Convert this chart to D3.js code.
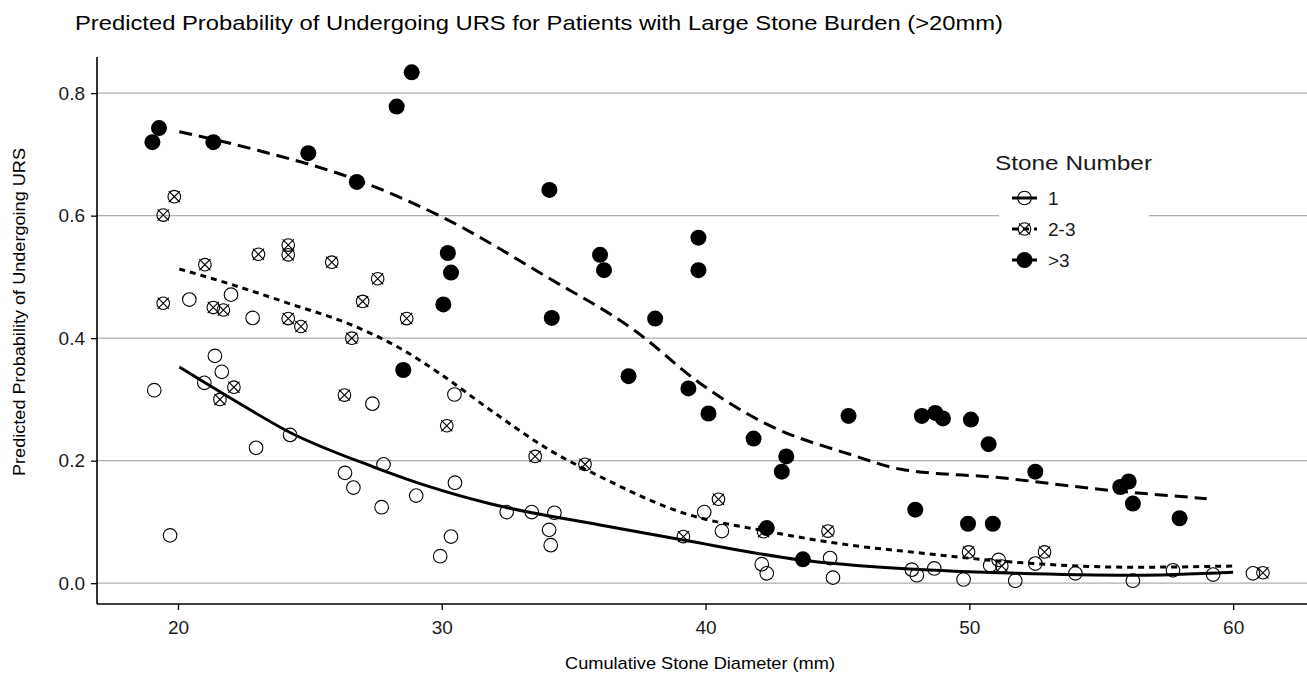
<!DOCTYPE html>
<html>
<head>
<meta charset="utf-8">
<script src="https://cdn.jsdelivr.net/npm/d3@7"></script>
<style>
  body { margin: 0; background: #fff; }
  svg { display: block; font-family: "Liberation Sans", Arial, sans-serif; }
</style>
</head>
<body>
<svg id="chart" width="1307" height="677"></svg>
<script>
// points: [diameter mm, probability]
const ptsOne = [
  [19.10,0.315],[19.70,0.078],[20.43,0.463],[21.00,0.327],[21.40,0.371],[21.66,0.345],
  [22.01,0.471],[22.83,0.433],[22.96,0.221],[24.25,0.242],[26.33,0.180],[26.65,0.156],
  [27.37,0.293],[27.72,0.124],[27.79,0.194],[29.03,0.143],[29.94,0.044],[30.35,0.076],
  [30.48,0.308],[30.50,0.164],[32.46,0.116],[33.41,0.116],[34.07,0.087],[34.13,0.062],
  [34.27,0.115],[39.95,0.116],[40.62,0.085],[42.13,0.031],[42.32,0.016],[44.72,0.041],
  [44.83,0.009],[47.82,0.022],[48.01,0.013],[48.67,0.024],[49.78,0.006],[50.79,0.029],
  [51.11,0.038],[51.74,0.004],[52.50,0.032],[54.02,0.016],[56.20,0.004],[57.72,0.021],
  [59.24,0.014],[60.75,0.016]
];
const ptsTwoThree = [
  [19.44,0.601],[19.86,0.631],[19.44,0.457],[21.02,0.520],[21.34,0.450],[21.72,0.446],
  [21.59,0.300],[22.12,0.320],[23.05,0.537],[24.18,0.552],[24.18,0.536],[24.18,0.432],
  [24.66,0.419],[25.83,0.524],[26.31,0.307],[26.59,0.400],[27.00,0.460],[27.57,0.497],
  [28.67,0.432],[30.19,0.257],[33.54,0.207],[35.43,0.194],[39.16,0.076],[40.49,0.137],
  [42.20,0.084],[44.64,0.085],[49.97,0.051],[51.23,0.028],[52.85,0.051],[61.13,0.017]
];
const ptsMore = [
  [19.03,0.720],[19.28,0.743],[21.34,0.720],[24.94,0.702],[26.78,0.655],[28.29,0.778],
  [28.86,0.834],[28.54,0.348],[30.06,0.455],[30.23,0.539],[30.35,0.507],[34.08,0.642],
  [34.17,0.433],[36.00,0.536],[36.15,0.511],[37.08,0.338],[38.09,0.432],[39.35,0.318],
  [39.73,0.564],[39.73,0.511],[40.11,0.277],[41.82,0.236],[42.32,0.090],[42.89,0.182],
  [43.06,0.207],[43.69,0.039],[45.42,0.273],[47.95,0.120],[48.20,0.273],[48.71,0.278],
  [49.00,0.269],[49.95,0.097],[50.06,0.267],[50.73,0.227],[50.89,0.097],[52.50,0.182],
  [55.72,0.157],[56.04,0.166],[56.20,0.130],[57.97,0.106]
];

// fitted curves
const fitOne = [
  [20.05,0.353],[22.0,0.302],[24.25,0.246],[27.4,0.190],[29.5,0.158],[31.8,0.130],
  [36.0,0.095],[39.2,0.070],[43.6,0.038],[47.4,0.024],[51.2,0.017],[56.2,0.013],[60.0,0.018]
];
const fitTwoThree = [
  [20.05,0.513],[22.0,0.488],[24.25,0.456],[26.5,0.423],[28.4,0.384],[29.9,0.343],
  [31.8,0.284],[34.1,0.217],[36.0,0.174],[39.2,0.114],[42.3,0.085],[45.5,0.062],
  [48.0,0.050],[51.2,0.036],[56.2,0.026],[60.0,0.028]
];
const fitMore = [
  [20.05,0.737],[23.0,0.707],[26.8,0.658],[30.0,0.598],[34.1,0.497],[37.3,0.413],
  [39.8,0.326],[42.3,0.260],[45.5,0.210],[47.4,0.186],[51.2,0.172],[55.0,0.153],[59.0,0.138]
];

const xTicks = [20, 30, 40, 50, 60];
const yTicks = [0, 0.2, 0.4, 0.6, 0.8];
const groups = ["1", "2-3", ">3"];

const svg = d3.select('#chart');
const m = {left: 97, right: 1307, top: 57, bottom: 604};

const x = d3.scaleLinear().domain([16.93, 62.8]).range([m.left, m.right]);
const y = d3.scaleLinear().domain([-0.034, 0.859]).range([m.bottom, m.top]);

// the source image is a bit wider than its glyphs, so stretch text to the measured width
function stretch(sel, w) {
  sel.attr('textLength', w).attr('lengthAdjust', 'spacingAndGlyphs');
}

// grid
svg.append('g').selectAll('line')
  .data(yTicks).join('line')
  .attr('x1', m.left).attr('x2', m.right)
  .attr('y1', d => y(d)).attr('y2', d => y(d))
  .attr('stroke', '#adadad').attr('stroke-width', 1.4);

// axes
const xAxis = svg.append('g')
  .attr('transform', `translate(0,${m.bottom})`)
  .call(d3.axisBottom(x).tickValues(xTicks).tickFormat(d3.format('d')).tickSize(6).tickSizeOuter(0).tickPadding(11));
const yAxis = svg.append('g')
  .attr('transform', `translate(${m.left},0)`)
  .call(d3.axisLeft(y).tickValues(yTicks).tickFormat(d3.format('.1f')).tickSize(6).tickSizeOuter(0).tickPadding(6));
[xAxis, yAxis].forEach(a => {
  a.select('.domain').remove();
  a.selectAll('line').attr('stroke', '#000').attr('stroke-width', 1.3);
  a.selectAll('text').attr('fill', '#1a1a1a').style('font-size', '19px');
});
svg.append('line').attr('x1', m.left).attr('x2', m.right).attr('y1', m.bottom).attr('y2', m.bottom)
  .attr('stroke', '#000').attr('stroke-width', 1.6);
svg.append('line').attr('x1', m.left).attr('x2', m.left).attr('y1', m.top).attr('y2', m.bottom)
  .attr('stroke', '#000').attr('stroke-width', 1.6);

// fitted lines
const line = d3.line().x(d => x(d[0])).y(d => y(d[1])).curve(d3.curveMonotoneX);
const dashes = {"1": null, "2-3": "6,5", ">3": "13,7"};
const fits = {"1": fitOne, "2-3": fitTwoThree, ">3": fitMore};
groups.forEach(g => {
  svg.append('path').datum(fits[g])
    .attr('d', line)
    .attr('fill', 'none').attr('stroke', '#000').attr('stroke-width', 3)
    .attr('stroke-dasharray', dashes[g]);
});

// point shapes
function drawShape(sel, g) {
  if (g === "1") {
    sel.append('circle').attr('r', 6.8).attr('fill', 'none').attr('stroke', '#000').attr('stroke-width', 1.1);
  } else if (g === "2-3") {
    sel.append('circle').attr('r', 6.3).attr('fill', 'none').attr('stroke', '#000').attr('stroke-width', 1.1);
    sel.append('path').attr('d', 'M-5.6,-5.6L5.6,5.6M-5.6,5.6L5.6,-5.6')
      .attr('stroke', '#000').attr('stroke-width', 1.1);
  } else {
    sel.append('circle').attr('r', 8).attr('fill', '#000');
  }
}
const pts = {"1": ptsOne, "2-3": ptsTwoThree, ">3": ptsMore};
groups.forEach(g => {
  svg.append('g').selectAll('g')
    .data(pts[g]).join('g')
    .attr('transform', d => `translate(${x(d[0])},${y(d[1])})`)
    .each(function() { drawShape(d3.select(this), g); });
});

// legend
const lg = svg.append('g');
lg.append('rect').attr('x', 999).attr('y', 145).attr('width', 150).attr('height', 130).attr('fill', '#fff');
lg.append('text').attr('x', 995).attr('y', 170).text('Stone Number')
  .style('font-size', '21px').attr('fill', '#1a1a1a')
  .call(stretch, 157);
groups.forEach((g, i) => {
  const cy = 198 + i * 31;
  const row = lg.append('g');
  row.append('line').attr('x1', 1012).attr('x2', 1037).attr('y1', cy).attr('y2', cy)
    .attr('stroke', '#000').attr('stroke-width', 3).attr('stroke-dasharray', dashes[g]);
  drawShape(row.append('g').attr('transform', `translate(1024.5,${cy})`), g);
  row.append('text').attr('x', 1048).attr('y', cy + 7).text(g)
    .style('font-size', '19px').attr('fill', '#1a1a1a');
});

// titles
svg.append('text').attr('x', 75).attr('y', 30)
  .text('Predicted Probability of Undergoing URS for Patients with Large Stone Burden (>20mm)')
  .style('font-size', '21px').attr('fill', '#000')
  .call(stretch, 928);
svg.append('text').attr('x', 700).attr('y', 669).attr('text-anchor', 'middle')
  .text('Cumulative Stone Diameter (mm)')
  .style('font-size', '17px').attr('fill', '#000')
  .call(stretch, 270);
svg.append('text').attr('transform', 'translate(25,312) rotate(-90)').attr('text-anchor', 'middle')
  .text('Predicted Probability of Undergoing URS')
  .style('font-size', '17px').attr('fill', '#000')
  .call(stretch, 328);
</script>
</body>
</html>
